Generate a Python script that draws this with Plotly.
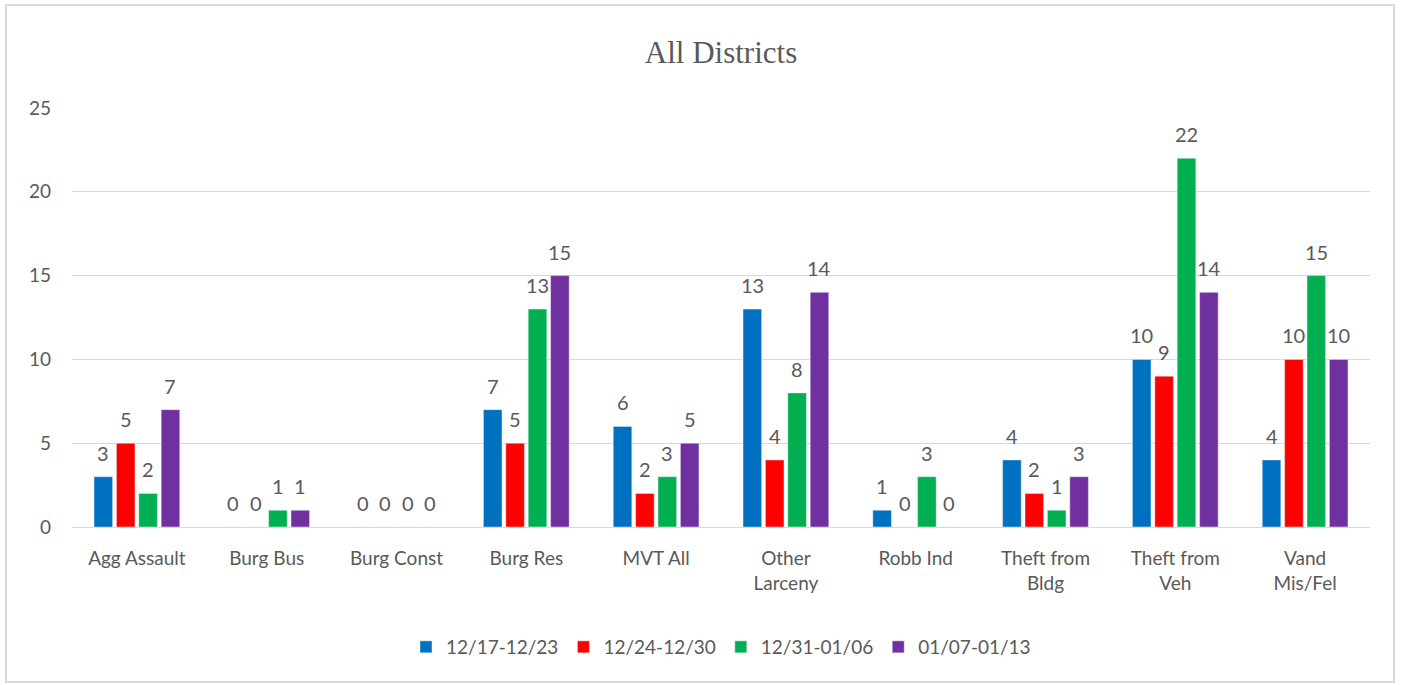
import plotly.graph_objects as go

categories = ["Agg Assault", "Burg Bus", "Burg Const", "Burg Res", "MVT All",
              "Other<br>Larceny", "Robb Ind", "Theft from<br>Bldg", "Theft from<br>Veh", "Vand<br>Mis/Fel"]
series_names = ["12/17-12/23", "12/24-12/30", "12/31-01/06", "01/07-01/13"]
s1 = [3, 0, 0, 7, 6, 13, 1, 4, 10, 4]
s2 = [5, 0, 0, 5, 2, 4, 0, 2, 9, 10]
s3 = [2, 1, 0, 13, 3, 8, 3, 1, 22, 15]
s4 = [7, 1, 0, 15, 5, 14, 0, 3, 14, 10]
colors = ["#0070C0", "#FF0000", "#00B050", "#7030A0"]
y_ticks = [0, 5, 10, 15, 20, 25]

bargap = 0.31
series = [s1, s2, s3, s4]
nser = len(series)
slot = (1 - bargap) / nser

fig = go.Figure()
annotations = []
for j, (name, vals, c) in enumerate(zip(series_names, series, colors)):
    fig.add_trace(go.Bar(x=categories, y=vals, name=name, marker_color=c))
    for i, v in enumerate(vals):
        annotations.append(dict(
            x=i + (j - (nser - 1) / 2) * slot, y=v, xref="x", yref="y",
            text=str(v), showarrow=False, yanchor="bottom", yshift=10,
            font=dict(size=20, color="#595959", family="Lato"),
        ))

W, H = 1401, 685
ml, mr, mt, mb = 72, 31, 108, 158
pw, ph = W - ml - mr, H - mt - mb

fig.update_layout(
    width=W, height=H,
    margin=dict(l=ml, r=mr, t=mt, b=mb, autoexpand=False),
    paper_bgcolor="white", plot_bgcolor="white",
    barmode="group", bargap=bargap, bargroupgap=0.17,
    title=dict(text="All Districts", x=0.5, xanchor="center", xref="paper",
               y=1 - 52 / H, yanchor="middle", yref="container",
               font=dict(family="Liberation Serif", size=31, color="#595959")),
    font=dict(family="Lato", color="#595959"),
    legend=dict(orientation="h", x=0.5, xanchor="center", y=(mt + ph - 647) / ph, yanchor="middle",
                font=dict(size=19, color="#595959"), traceorder="normal"),
    xaxis=dict(tickfont=dict(size=19, color="#595959"), showline=True, linecolor="#D9D9D9",
               ticks="", showgrid=False, automargin=False, ticklabelstandoff=14),
    yaxis=dict(range=[0, 25], tickvals=y_ticks, tickfont=dict(size=19, color="#595959"),
               showgrid=True, gridcolor="#D9D9D9", zeroline=False, showline=False, ticks="",
               ticklabelstandoff=20, automargin=False),
    annotations=annotations,
    shapes=[dict(type="rect", xref="paper", yref="paper",
                 x0=(6 - ml) / pw, x1=(1394 - ml) / pw,
                 y0=(mt + ph - 682) / ph, y1=(mt + ph - 5) / ph,
                 line=dict(color="#D9D9D9", width=2), fillcolor="rgba(0,0,0,0)", layer="below")],
)

fig.write_html("out.html", config={"displayModeBar": False},
               post_script="document.body.style.margin='0';document.body.style.overflow='hidden';")
